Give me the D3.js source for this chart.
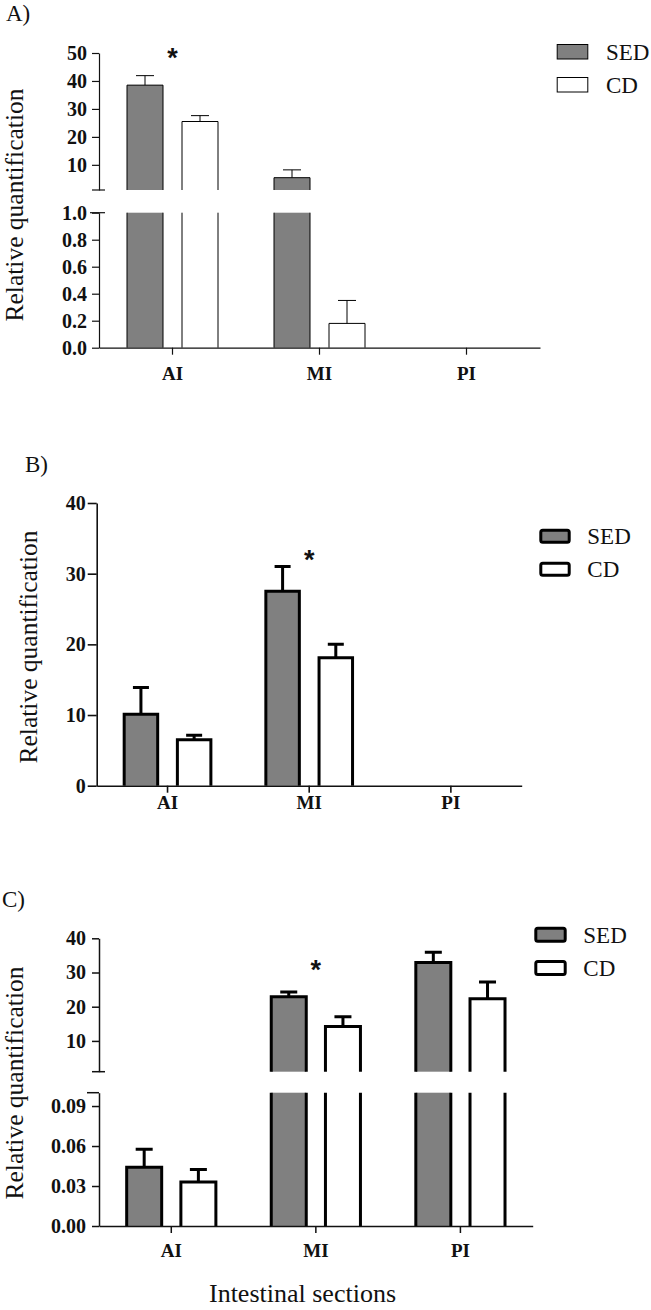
<!DOCTYPE html>
<html><head><meta charset="utf-8">
<script src="https://cdn.jsdelivr.net/npm/d3@7"></script>
<style>body{margin:0;background:#fff} svg{display:block}</style>
</head><body><svg id="chart" width="651" height="1310"></svg>
<script>
// ---------- DATA ----------
const categories = ["AI", "MI", "PI"];
const series = ["SED", "CD"];
const panelLabels = ["A)", "B)", "C)"];
const yAxisTitle = "Relative quantification";
const xAxisTitle = "Intestinal sections";

// Panel A (broken y axis)
const sedA = [38.5, 5.4, 0];
const sedAErr = [3.4, 2.8, 0];
const cdA = [25.5, 0.18, 0];
const cdAErr = [2.1, 0.17, 0];
const domainAUpper = [1, 50];
const domainALower = [0, 1];
const ticksAUpper = [10, 20, 30, 40, 50];
const ticksALower = [0, 0.2, 0.4, 0.6, 0.8, 1.0];
const starCatsA = ["AI"];
const starLevelsA = [50];

// Panel B
const sedB = [10.1, 27.5, 0];
const sedBErr = [3.8, 3.5, 0];
const cdB = [6.5, 18.1, 0];
const cdBErr = [0.65, 1.9, 0];
const domainB = [0, 40];
const ticksB = [0, 10, 20, 30, 40];
const starCatsB = ["MI"];
const starLevelsB = [32.6];

// Panel C (broken y axis)
const sedC = [0.044, 22.9, 32.9];
const sedCErr = [0.0135, 1.4, 3.0];
const cdC = [0.033, 14.2, 22.3];
const cdCErr = [0.0093, 2.9, 4.9];
const domainCUpper = [1, 40];
const domainCLower = [0, 0.1];
const ticksCUpper = [10, 20, 30, 40];
const ticksCLower = [0, 0.03, 0.06, 0.09];
const starCatsC = ["MI"];
const starLevelsC = [32.2];

// ---------- DRAWING ----------
const svg = d3.select("#chart");
const serif = "'Liberation Serif','Times New Roman',serif";
const sans = "'Liberation Sans',Arial,sans-serif";
const sedFill = "#808080";

const panels = [
  {
    label: panelLabels[0], labelPos: [6, 21],
    sed: sedA, sedErr: sedAErr, cd: cdA, cdErr: cdAErr,
    axisX: 99, xRange: [99, 540], xAxisY: 347.7,
    segs: [
      {domain: domainAUpper, range: [190, 53], ticks: ticksAUpper, fmt: d3.format("d"), breakBottom: true},
      {domain: domainALower, range: [347.7, 212.7], ticks: ticksALower, fmt: d3.format(".1f"), breakTop: [-9, 6]}
    ],
    barW: 36, sep: 55, barStroke: 1, errStroke: 1, capW: 18, axisStroke: 1.2,
    tickLen: 7, tickPad: 5, tickFont: 20, xPad: 11.5, catFont: 19,
    legend: {x: 557.2, y: 44.5, gap: 33, w: 30.6, h: 14.5, textX: 606, stroke: 1, rx: 0},
    yTitle: [23, 205],
    stars: [starCatsA, starLevelsA]
  },
  {
    label: panelLabels[1], labelPos: [25, 471.5],
    sed: sedB, sedErr: sedBErr, cd: cdB, cdErr: cdBErr,
    axisX: 96.7, xRange: [96.7, 521.7], xAxisY: 785.7,
    segs: [
      {domain: domainB, range: [785.7, 503], ticks: ticksB, fmt: d3.format("d")}
    ],
    barW: 33.5, sep: 53.2, barStroke: 3, errStroke: 3, capW: 16, axisStroke: 1.6,
    tickLen: 9, tickPad: 2, tickFont: 20, xPad: 3, catFont: 19,
    legend: {x: 540.8, y: 530.2, gap: 33, w: 28.4, h: 12, textX: 587.3, stroke: 3, rx: 2},
    yTitle: [37, 647],
    stars: [starCatsB, starLevelsB]
  },
  {
    label: panelLabels[2], labelPos: [2, 907],
    sed: sedC, sedErr: sedCErr, cd: cdC, cdErr: cdCErr,
    axisX: 99, xRange: [99, 532.7], xAxisY: 1226,
    segs: [
      {domain: domainCUpper, range: [1071.7, 938.3], ticks: ticksCUpper, fmt: d3.format("d"), breakBottom: true},
      {domain: domainCLower, range: [1226, 1092.7], ticks: ticksCLower, fmt: d3.format(".2f"), breakTop: [-12, 0]}
    ],
    barW: 35, sep: 54.2, barStroke: 3, errStroke: 3, capW: 17, axisStroke: 1.5,
    tickLen: 7, tickPad: 6, tickFont: 20, xPad: 10.5, catFont: 19,
    legend: {x: 535.8, y: 928.2, gap: 33.3, w: 29.4, h: 13, textX: 583.3, stroke: 3, rx: 2},
    yTitle: [23, 1083],
    stars: [starCatsC, starLevelsC],
    xTitle: [302.5, 1302]
  }
];

function drawPanel(p) {
  const g = svg.append("g");
  const padIn = 1 - p.barW / p.sep;
  const span = p.sep * (2 - padIn);
  const x0 = d3.scaleBand().domain(categories).range(p.xRange);
  const x1 = d3.scaleBand().domain(series).range([-span / 2, span / 2]).paddingInner(padIn);
  const bw = x1.bandwidth();
  const vals = {SED: p.sed, CD: p.cd}, errs = {SED: p.sedErr, CD: p.cdErr};
  const rows = [];
  categories.forEach((c, i) => series.forEach(s => rows.push({cat: c, ser: s, v: vals[s][i], e: errs[s][i]})));
  const bx = d => x0(d.cat) + x0.bandwidth() / 2 + x1(d.ser);

  const segs = p.segs.map(s => Object.assign({}, s, {y: d3.scaleLinear().domain(s.domain).range(s.range)}));

  segs.forEach(seg => {
    const lo = seg.domain[0], hi = seg.domain[1];
    const items = rows.filter(d => d.v > lo);
    const top = d => seg.y(Math.min(d.v, hi));
    g.append("g").selectAll("rect").data(items).join("rect")
      .attr("x", bx).attr("width", bw)
      .attr("y", top).attr("height", d => seg.y(lo) - top(d))
      .attr("fill", d => d.ser === "SED" ? sedFill : "#fff");
    g.append("g").selectAll("path").data(items).join("path")
      .attr("d", d => {
        const xa = bx(d), xb = xa + bw, yb = seg.y(lo), yt = top(d);
        return d.v <= hi ? `M${xa},${yb}V${yt}H${xb}V${yb}` : `M${xa},${yb}V${yt}M${xb},${yt}V${yb}`;
      })
      .attr("fill", "none").attr("stroke", "#000").attr("stroke-width", p.barStroke)
      .attr("stroke-linejoin", "miter");
    // error bars (upper only)
    const eItems = items.filter(d => d.v <= hi && d.e > 0);
    g.append("g").selectAll("path").data(eItems).join("path")
      .attr("d", d => {
        const cx = bx(d) + bw / 2, yt = seg.y(d.v), ye = seg.y(d.v + d.e);
        return `M${cx},${yt}V${ye}M${cx - p.capW / 2},${ye}H${cx + p.capW / 2}`;
      })
      .attr("fill", "none").attr("stroke", "#000").attr("stroke-width", p.errStroke);

    // y axis for this segment
    const ax = g.append("g").attr("transform", `translate(${p.axisX},0)`)
      .call(d3.axisLeft(seg.y).tickValues(seg.ticks).tickFormat(seg.fmt)
        .tickSize(p.tickLen).tickSizeOuter(0).tickPadding(p.tickPad));
    ax.attr("font-family", serif).attr("font-size", p.tickFont).attr("font-weight", "bold");
    ax.selectAll("path,line").attr("stroke", "#111").attr("stroke-width", p.axisStroke);
    ax.selectAll("text").attr("fill", "#111");
    if (seg.breakBottom) {
      g.append("line").attr("x1", p.axisX - 7).attr("x2", p.axisX + 6)
        .attr("y1", seg.y(lo)).attr("y2", seg.y(lo))
        .attr("stroke", "#111").attr("stroke-width", p.axisStroke);
    }
    if (seg.breakTop) {
      g.append("line").attr("x1", p.axisX + seg.breakTop[0]).attr("x2", p.axisX + seg.breakTop[1])
        .attr("y1", seg.y(hi)).attr("y2", seg.y(hi))
        .attr("stroke", "#111").attr("stroke-width", p.axisStroke);
    }
  });

  // x axis
  const xa = g.append("g").attr("transform", `translate(0,${p.xAxisY})`)
    .call(d3.axisBottom(x0).tickSize(7).tickSizeOuter(0).tickPadding(p.xPad));
  xa.attr("font-family", serif).attr("font-size", p.catFont).attr("font-weight", "bold");
  xa.selectAll("path,line").attr("stroke", "#111").attr("stroke-width", p.axisStroke);
  xa.selectAll("text").attr("fill", "#111");

  // significance stars
  const [sCats, sLevels] = p.stars;
  sCats.forEach((c, i) => {
    const seg = segs.find(s => sLevels[i] >= s.domain[0] && sLevels[i] <= s.domain[1]);
    g.append("text").attr("x", x0(c) + x0.bandwidth() / 2).attr("y", seg.y(sLevels[i]) + 14)
      .attr("text-anchor", "middle").attr("font-family", sans).attr("font-weight", "bold")
      .attr("font-size", 27).attr("fill", "#111").text("*");
  });

  // legend
  const L = p.legend;
  series.forEach((s, i) => {
    const y = L.y + i * L.gap;
    g.append("rect").attr("x", L.x).attr("y", y).attr("width", L.w).attr("height", L.h)
      .attr("rx", L.rx).attr("fill", s === "SED" ? sedFill : "#fff")
      .attr("stroke", "#000").attr("stroke-width", L.stroke);
    g.append("text").attr("x", L.textX).attr("y", y + L.h / 2).attr("dy", "0.34em")
      .attr("font-family", serif).attr("font-size", 23).attr("fill", "#111").text(s);
  });

  // panel label
  g.append("text").attr("x", p.labelPos[0]).attr("y", p.labelPos[1])
    .attr("font-family", serif).attr("font-size", 23).attr("fill", "#111").text(p.label);

  // y title
  g.append("text").attr("transform", `translate(${p.yTitle[0]},${p.yTitle[1]}) rotate(-90)`)
    .attr("text-anchor", "middle").attr("font-family", serif).attr("font-size", 25.5)
    .attr("fill", "#111").text(yAxisTitle);

  if (p.xTitle) {
    g.append("text").attr("x", p.xTitle[0]).attr("y", p.xTitle[1])
      .attr("text-anchor", "middle").attr("font-family", serif).attr("font-size", 26)
      .attr("fill", "#111").text(xAxisTitle);
  }
}

panels.forEach(drawPanel);
</script>
</body></html>
